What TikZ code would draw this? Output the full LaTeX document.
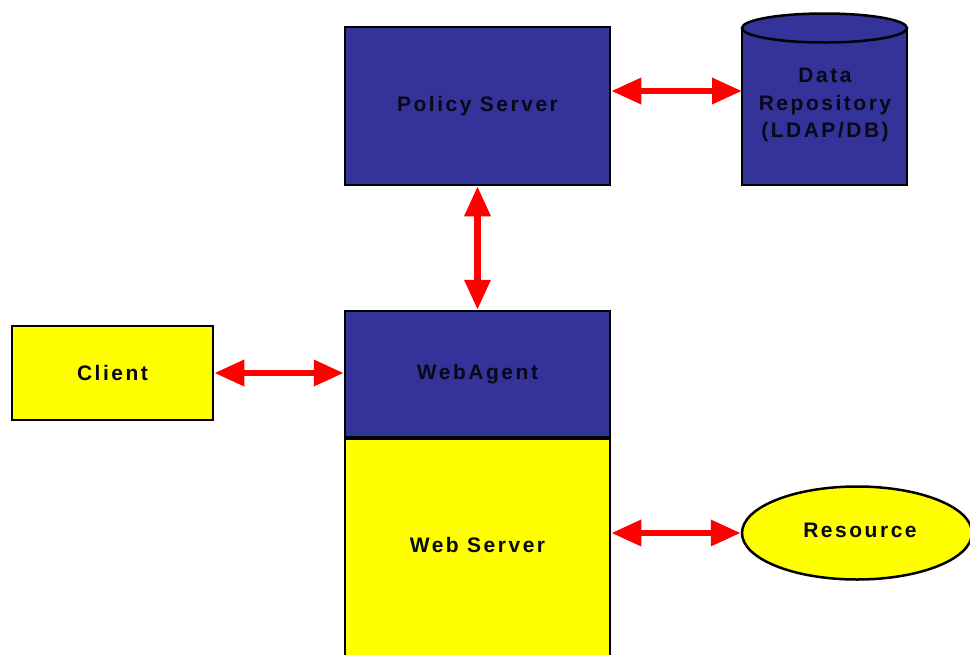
\documentclass[tikz,border=0pt]{standalone}
\usepackage{fontspec}
\setmainfont{Liberation Sans}[LetterSpace=12]
\usetikzlibrary{arrows.meta,shapes.geometric}
\definecolor{navy}{HTML}{333399}
\definecolor{canary}{HTML}{FFFF00}
\definecolor{arrowred}{HTML}{FF0000}
\tikzset{
  box/.style={draw=black, line width=2.5pt, inner sep=0pt},
  bluebox/.style={box, fill=navy, font=\bfseries\fontsize{21}{27.5}\selectfont, text=black!85!navy},
  yellowbox/.style={box, fill=canary, font=\bfseries\fontsize{21}{27.5}\selectfont, text=black!85!navy},
  link/.style={draw=arrowred, line width=6.5pt,
    {Triangle[length=30pt,width=25pt]}-{Triangle[length=30pt,width=25pt]}},
  caption/.style={font=\bfseries\fontsize{21}{27.5}\selectfont, text=black!85!navy, align=center, inner sep=0pt}
}
\begin{document}
\begin{tikzpicture}[x=1pt,y=-1pt]
  \useasboundingbox (0,0) rectangle (970,654);
  \clip (0,0) rectangle (970,654);

  % policy server
  \node[bluebox, minimum width=265pt, minimum height=158pt] (policy) at (477.5,106) {Policy Server};

  % data repository drawn as a cylinder
  \fill[navy] (742,28) -- (742,185) -- (907,185) -- (907,28) arc[start angle=0, end angle=180, x radius=82.5pt, y radius=-14.5pt] -- cycle;
  \draw[line width=2.5pt] (742,28) -- (742,185) -- (907,185) -- (907,28);
  \draw[line width=2.5pt, fill=navy] (824.5,28) ellipse[x radius=82.5pt, y radius=14.5pt];
  \node[caption] (datatext) at (825,105) {Data\\Repository\\(LDAP/DB)};
  \coordinate (datain) at (742,91);

  % web agent on top of the web server
  \node[yellowbox, minimum width=265pt, minimum height=240pt, anchor=north] (server) at (477.5,437) {};
  \node[caption] (servertext) at (477.5,545) {Web Server};
  \node[bluebox, minimum width=265pt, minimum height=126pt] (agent) at (477.5,374) {WebAgent};

  % client and resource
  \node[yellowbox, minimum width=201pt, minimum height=94pt] (client) at (112.5,373) {Client};
  \node[box, fill=canary, ellipse, minimum width=230pt, minimum height=93pt] (resource) at (857,533) {};
  \node[caption] (restext) at (860,530) {Resource};

  % connectors
  \path[link] ([yshift=15pt]policy.east) -- (datain);
  \path[link] (policy.south) -- (agent.north);
  \path[link] (client.east) -- (agent.west |- client.east);
  \path[link] (server.east |- resource.west) -- (resource.west);
\end{tikzpicture}
\end{document}
